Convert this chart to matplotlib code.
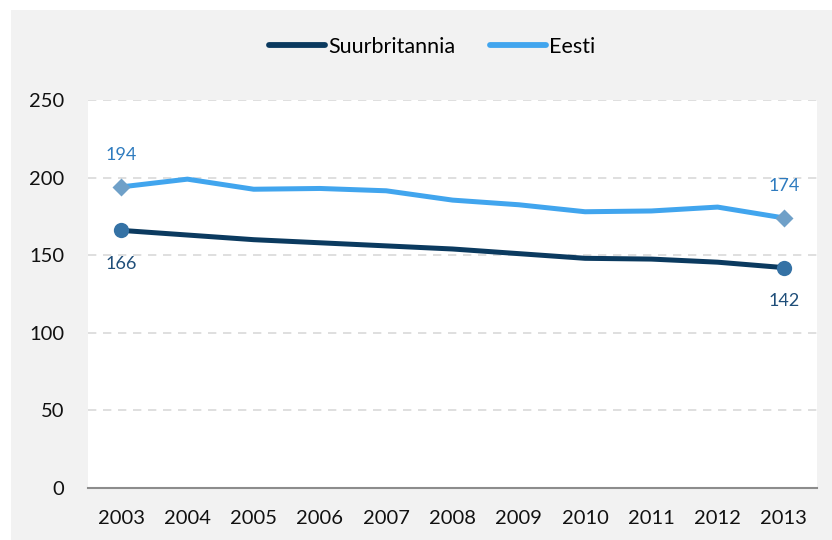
import matplotlib
matplotlib.use("Agg")
import matplotlib.pyplot as plt
from matplotlib.patches import Rectangle

years = ["2003", "2004", "2005", "2006", "2007", "2008", "2009", "2010", "2011", "2012", "2013"]
uk = [166, 163, 160, 158, 156, 154, 151, 148, 147.5, 145.5, 142]
ee = [194, 199, 192.5, 193, 191.5, 185.5, 182.5, 178, 178.5, 181, 174]
yticks = [0, 50, 100, 150, 200, 250]

uk_color = "#0b3a5f"
ee_color = "#41a5ee"

plt.rcParams["font.family"] = ["Lato", "DejaVu Sans"]

fig = plt.figure(figsize=(8.32, 5.40), dpi=100)
fig.patch.set_facecolor("white")
fig.patches.append(Rectangle((11 / 832, 0), 1 - 11 / 832, 1 - 10 / 540,
                             transform=fig.transFigure, facecolor="#f2f2f2",
                             edgecolor="none", zorder=-10))

ax = fig.add_axes([88 / 832, 1 - 488 / 540, (817 - 88) / 832, (488 - 100) / 540])
ax.set_facecolor("white")

x = list(range(len(years)))
ax.plot(x, uk, color=uk_color, lw=3.6, solid_capstyle="round", label="Suurbritannia", zorder=3)
ax.plot(x, ee, color=ee_color, lw=3.6, solid_capstyle="round", label="Eesti", zorder=3)

# endpoint markers
ax.plot([x[0], x[-1]], [uk[0], uk[-1]], "o", color="#3572a5", ms=11, mec="none", zorder=4)
ax.plot([x[0], x[-1]], [ee[0], ee[-1]], "D", color="#6fa0c8", ms=9, mec="none", zorder=4)

# value labels
for i in (0, len(x) - 1):
    ax.annotate(f"{ee[i]:.0f}", (x[i], ee[i]), xytext=(0, 23), textcoords="offset points",
                ha="center", va="center", fontsize=13, color="#2e7bbf")
    ax.annotate(f"{uk[i]:.0f}", (x[i], uk[i]), xytext=(0, -24), textcoords="offset points",
                ha="center", va="center", fontsize=13, color="#1f4e79")

ax.set_xlim(-0.5, len(years) - 0.5)
ax.set_ylim(0, 250)
ax.set_yticks(yticks)
ax.set_xticks(x)
ax.set_xticklabels(years)
ax.tick_params(axis="both", length=0, labelsize=14.5, colors="#111111")
ax.tick_params(axis="y", pad=17)
ax.tick_params(axis="x", pad=16)

for yv in yticks[1:]:
    ax.axhline(yv, color="#d9d9d9", lw=1.2, ls=(0, (5, 4)), zorder=1)

for s in ("top", "right", "left"):
    ax.spines[s].set_visible(False)
ax.spines["bottom"].set_color("#8c8c8c")
ax.spines["bottom"].set_linewidth(1.5)

leg = fig.legend(loc="center", bbox_to_anchor=(432 / 832, 1 - 47 / 540), ncol=2,
                 frameon=False, fontsize=15.5, handlelength=2.6, handletextpad=0.15,
                 columnspacing=1.6)
for h in leg.get_lines():
    h.set_linewidth(4.2)

fig.savefig("out.png", dpi=100, facecolor=fig.get_facecolor())
